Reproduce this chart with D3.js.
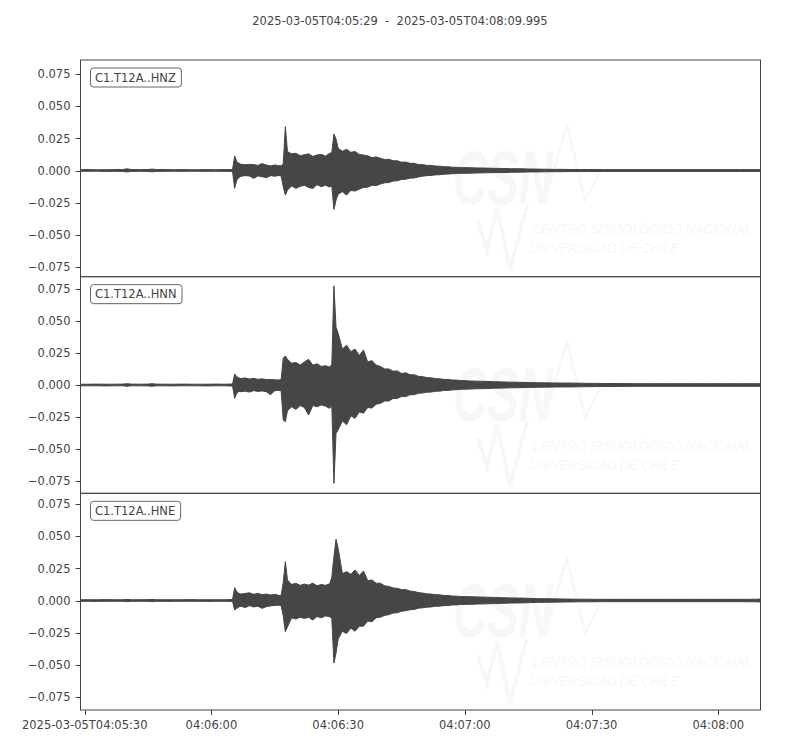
<!DOCTYPE html>
<html><head><meta charset="utf-8">
<script src="https://cdn.jsdelivr.net/npm/d3@7"></script>
<style>body{margin:0;background:#fff} svg{display:block}</style>
</head><body><svg id="c" width="800" height="750"></svg>
<script>
// ---------------- data ----------------
const titleText = "2025-03-05T04:05:29  -  2025-03-05T04:08:09.995";
const channels = ["C1.T12A..HNZ", "C1.T12A..HNN", "C1.T12A..HNE"];
const startISO = "2025-03-05T04:05:29.000Z";
const endISO = "2025-03-05T04:08:09.995Z";
const xTickISO = ["2025-03-05T04:05:30Z","2025-03-05T04:06:00Z","2025-03-05T04:06:30Z","2025-03-05T04:07:00Z","2025-03-05T04:07:30Z","2025-03-05T04:08:00Z"];
const xTickLabels = ["2025-03-05T04:05:30","04:06:00","04:06:30","04:07:00","04:07:30","04:08:00"];
const yTicks = [-0.075,-0.05,-0.025,0,0.025,0.05,0.075];
const yTickLabels = ["\u22120.075","\u22120.050","\u22120.025","0.000","0.025","0.050","0.075"];
// trace means (each axis is centred on its trace mean), half range of y axis
const traceMean = [0.0017, 0.0, -0.0009];
const yHalfRange = 0.0844;

// seconds after start time at which the envelope (max / min) was read
const sec = [0,2,4,6,8,10,11,12,14,16,17,18,20,22,24,26,28,30,32,34,35,36,
  36.5,37,37.5,38,39,40,41,42,43,44,45,46,47,47.5,
  48,48.5,49,50,51,52,53,54,55,56,57,58,59,59.5,
  60,60.5,61,62,63,64,65,66,67,68,69,70,
  71,72,73,74,75,76,77,78,79,80,
  81,82,83,84,85,86,87,88,89,90,
  92,94,96,98,100,102,104,106,108,110,
  112,114,116,118,120,124,128,132,136,140,
  144,148,152,156,160,161];

// envelopes in units of 1e-3
const hnzMax = [0.6,0.7,0.6,0.6,0.7,0.8,1.3,0.8,0.7,0.8,1.1,0.8,0.7,0.6,0.7,0.6,0.6,0.7,0.6,0.7,0.7,0.8,
  11.3,6.9,5.6,4.8,4.5,4.8,4.6,4.0,5.4,4.2,3.6,4.3,3.8,3.6,
  5.5,34.2,14.7,13.0,13.4,11.5,12.2,13.0,11.0,12.1,12.6,11.2,13.4,14.0,
  28.5,24.5,17.3,15.0,16.5,14.2,14.8,12.5,12.0,11.5,10.0,10.6,
  9.5,8.6,8.8,7.6,7.6,6.5,6.6,5.6,5.6,4.6,
  4.6,4.0,4.0,3.5,3.4,3.0,2.9,2.6,2.5,2.3,
  2.2,2.0,1.9,1.7,1.6,1.4,1.4,1.2,1.1,1.0,
  0.9,0.9,0.8,0.8,0.8,0.7,0.7,0.7,0.7,0.7,
  0.7,0.7,0.7,0.7,0.7,0.7];
const hnzMin = [-0.6,-0.6,-0.5,-0.7,-0.6,-0.7,-1.1,-0.7,-0.6,-0.7,-1.0,-0.7,-0.6,-0.6,-0.6,-0.5,-0.6,-0.6,-0.6,-0.6,-0.7,-0.8,
  -13.9,-7.4,-5.5,-4.5,-4.0,-4.3,-6.1,-4.2,-4.8,-5.6,-4.0,-4.4,-3.9,-4.2,
  -12.6,-19.1,-15.2,-12.0,-13.9,-12.4,-11.5,-13.2,-14.0,-11.0,-12.6,-11.5,-12.8,-12.0,
  -30.3,-23.0,-18.5,-16.5,-19.1,-15.5,-16.0,-14.5,-13.2,-13.0,-11.5,-11.8,
  -10.5,-9.6,-9.4,-8.2,-8.0,-7.0,-6.8,-6.0,-5.8,-5.0,
  -4.4,-4.0,-3.8,-3.4,-3.3,-2.9,-2.8,-2.5,-2.4,-2.2,
  -2.1,-1.9,-1.8,-1.6,-1.6,-1.4,-1.3,-1.1,-1.1,-1.0,
  -0.9,-0.9,-0.8,-0.8,-0.8,-0.7,-0.7,-0.7,-0.7,-0.7,
  -0.7,-0.7,-0.7,-0.7,-0.7,-0.7];

const hnnMax = [0.6,0.6,0.7,0.6,0.6,0.7,1.0,0.7,0.6,0.7,1.0,0.7,0.6,0.6,0.7,0.6,0.6,0.6,0.7,0.6,0.7,0.8,
  8.6,6.5,5.5,5.0,5.5,4.6,5.2,4.4,4.8,4.2,4.3,4.0,3.9,4.2,
  20.8,22.6,20.0,17.0,17.5,15.5,18.0,20.0,15.5,16.5,14.5,15.0,14.0,16.0,
  77.2,45.0,40.3,28.0,31.0,26.0,28.0,23.0,27.3,18.0,19.0,15.5,
  14.5,12.5,12.5,10.8,11.0,9.0,9.5,8.0,8.0,6.8,
  6.5,5.8,5.6,5.0,4.8,4.4,4.3,3.9,3.8,3.5,
  3.2,3.0,2.8,2.6,2.4,2.2,2.1,1.9,1.8,1.7,
  1.6,1.5,1.5,1.4,1.3,1.2,1.1,1.0,1.0,1.0,
  1.0,1.0,1.0,1.0,1.0,1.0];
const hnnMin = [-0.6,-0.6,-0.6,-0.7,-0.6,-0.6,-1.0,-0.6,-0.6,-0.7,-1.0,-0.6,-0.6,-0.7,-0.6,-0.6,-0.6,-0.7,-0.6,-0.6,-0.7,-0.8,
  -10.4,-6.5,-5.0,-5.2,-4.8,-5.5,-4.4,-5.0,-4.6,-5.2,-7.5,-4.4,-4.2,-4.5,
  -27.3,-28.6,-20.0,-17.0,-19.0,-16.0,-17.5,-23.4,-16.0,-17.0,-15.5,-16.5,-18.2,-16.0,
  -76.7,-37.7,-35.0,-28.0,-31.0,-24.0,-26.0,-21.0,-22.0,-17.5,-18.0,-15.0,
  -14.3,-12.5,-12.5,-10.5,-10.5,-9.0,-9.0,-7.6,-7.5,-6.5,
  -6.2,-5.6,-5.5,-4.9,-4.8,-4.3,-4.2,-3.8,-3.7,-3.4,
  -3.2,-2.9,-2.8,-2.5,-2.4,-2.2,-2.1,-1.9,-1.8,-1.7,
  -1.6,-1.5,-1.5,-1.4,-1.3,-1.2,-1.1,-1.0,-1.0,-1.0,
  -1.0,-1.0,-1.0,-1.0,-1.0,-1.0];

const hneMax = [0.6,0.6,0.6,0.7,0.6,0.6,0.9,0.6,0.6,0.7,0.9,0.6,0.6,0.6,0.6,0.7,0.6,0.6,0.6,0.6,0.7,0.8,
  10.0,6.9,5.5,5.0,5.5,6.0,4.8,5.6,4.5,5.0,4.3,4.8,4.0,4.0,
  14.0,30.3,16.0,12.5,13.4,11.8,12.8,12.0,13.5,11.5,12.5,11.8,13.0,18.0,
  34.2,47.7,40.7,21.0,22.5,20.5,23.8,19.5,23.0,15.5,16.0,13.5,
  13.5,11.5,11.0,9.8,9.5,8.5,8.5,7.4,7.0,6.2,
  5.8,5.2,5.0,4.6,4.4,4.0,3.9,3.5,3.4,3.1,
  3.0,2.8,2.6,2.4,2.2,2.0,1.9,1.7,1.5,1.4,
  1.3,1.2,1.1,1.0,1.0,0.9,0.9,0.9,0.9,0.9,
  0.9,0.9,0.9,0.9,1.0,1.2];
const hneMin = [-0.6,-0.6,-0.7,-0.6,-0.6,-0.6,-0.9,-0.6,-0.6,-0.6,-0.9,-0.6,-0.7,-0.6,-0.6,-0.6,-0.6,-0.7,-0.6,-0.6,-0.7,-0.8,
  -7.4,-6.1,-5.0,-4.5,-5.5,-4.0,-5.0,-4.4,-6.1,-4.8,-4.2,-3.8,-3.6,-4.0,
  -12.0,-24.3,-20.6,-13.5,-14.5,-13.0,-14.0,-13.0,-15.2,-12.5,-13.5,-12.0,-12.6,-14.0,
  -48.7,-41.0,-30.0,-24.0,-25.7,-21.5,-24.0,-20.0,-20.0,-16.0,-16.5,-13.5,
  -13.0,-11.6,-11.0,-9.8,-9.5,-8.4,-8.0,-7.2,-7.0,-6.0,
  -5.7,-5.2,-5.0,-4.5,-4.4,-4.0,-3.9,-3.5,-3.4,-3.1,
  -3.0,-2.8,-2.6,-2.4,-2.2,-2.0,-1.9,-1.7,-1.5,-1.4,
  -1.3,-1.2,-1.1,-1.0,-1.0,-0.9,-0.9,-0.9,-0.9,-0.9,
  -0.9,-0.9,-0.9,-0.9,-1.0,-1.2];

const envMax = [hnzMax, hnnMax, hneMax];
const envMin = [hnzMin, hnnMin, hneMin];

// ---------------- drawing ----------------
const plotLeft = 80.5, plotRight = 760.5, plotTop = 60, plotBottom = 710;
const nP = 3, panelH = (plotBottom - plotTop) / nP;
const ink = "#444";
const wfColor = "#464646";
const wmColor = "#f7f7f7";
const fontFam = "'DejaVu Sans', sans-serif";
const wmFont = "'Liberation Sans', sans-serif";
const fs = 11.5;

const svg = d3.select("#c");
const t0 = new Date(startISO);
const x = d3.scaleUtc().domain([t0, new Date(endISO)]).range([plotLeft, plotRight]);

svg.append("text").attr("x", 400).attr("y", 25).attr("text-anchor", "middle")
  .attr("font-family", fontFam).attr("font-size", fs).attr("fill", ink)
  .style("white-space", "pre").text(titleText);

const defs = svg.append("defs");

channels.forEach((ch, i) => {
  const top = plotTop + i * panelH, bot = top + panelH;
  const y = d3.scaleLinear().domain([traceMean[i] - yHalfRange, traceMean[i] + yHalfRange]).range([bot, top]);
  defs.append("clipPath").attr("id", "clip" + i).append("rect")
    .attr("x", plotLeft).attr("y", top).attr("width", plotRight - plotLeft).attr("height", panelH);

  // watermark (CSN logo), very faint
  const wm = svg.append("g").attr("transform", `translate(0,${top})`);
  wm.append("text").attr("x", 453).attr("y", 144).attr("font-family", wmFont)
    .attr("font-size", 76).attr("font-style", "italic").attr("font-weight", "bold")
    .attr("textLength", 100).attr("lengthAdjust", "spacingAndGlyphs").attr("fill", wmColor).text("CSN");
  wm.append("polyline").attr("points", "548,130 567,65 585,140 600,112")
    .attr("fill", "none").attr("stroke", wmColor).attr("stroke-width", 2.5);
  wm.append("polyline").attr("points", "478,162 487,190 497,148 510,210 527,145")
    .attr("fill", "none").attr("stroke", wmColor).attr("stroke-width", 4);
  wm.append("text").attr("x", 532).attr("y", 174).attr("font-family", wmFont)
    .attr("font-size", 14).attr("font-style", "italic").attr("textLength", 220)
    .attr("lengthAdjust", "spacingAndGlyphs").attr("fill", wmColor).text("CENTRO SISMOLÓGICO NACIONAL");
  wm.append("text").attr("x", 529).attr("y", 193).attr("font-family", wmFont)
    .attr("font-size", 14).attr("font-style", "italic").attr("textLength", 150)
    .attr("lengthAdjust", "spacingAndGlyphs").attr("fill", wmColor).text("UNIVERSIDAD DE CHILE");

  // waveform envelope
  const g = svg.append("g").attr("clip-path", `url(#clip${i})`);
  const pts = sec.map((s, k) => ({ t: new Date(t0.getTime() + s * 1000), hi: envMax[i][k] / 1000, lo: envMin[i][k] / 1000 }));
  const area = d3.area().x(d => x(d.t)).y0(d => y(d.lo)).y1(d => y(d.hi)).curve(d3.curveLinear);
  g.append("path").datum(pts).attr("d", area).attr("fill", wfColor)
    .attr("stroke", wfColor).attr("stroke-width", 1).attr("stroke-linejoin", "miter");

  // frame
  svg.append("rect").attr("x", plotLeft).attr("y", top).attr("width", plotRight - plotLeft).attr("height", panelH)
    .attr("fill", "none").attr("stroke", ink).attr("stroke-width", 1);

  // y axis
  const ya = svg.append("g").attr("transform", `translate(${plotLeft},0)`);
  yTicks.forEach((v, k) => {
    const yy = Math.round(y(v)) + 0.5;
    ya.append("line").attr("x1", -5).attr("x2", 0).attr("y1", yy).attr("y2", yy).attr("stroke", ink).attr("stroke-width", 1);
    ya.append("text").attr("x", -10).attr("y", y(v)).attr("dy", "0.36em").attr("text-anchor", "end")
      .attr("font-family", fontFam).attr("font-size", fs).attr("fill", ink).text(yTickLabels[k]);
  });

  // channel label box
  const lbl = svg.append("g");
  const tx = lbl.append("text").attr("x", 95).attr("y", top + 21.5).attr("font-family", fontFam)
    .attr("font-size", fs).attr("fill", ink).text(ch);
  const bb = tx.node().getBBox();
  lbl.insert("rect", "text").attr("x", 90.5).attr("y", top + 8).attr("width", bb.width + 10).attr("height", 19)
    .attr("rx", 3).attr("ry", 3).attr("fill", "#fff").attr("stroke", "#666").attr("stroke-width", 1);
});

// x axis
const xa = svg.append("g");
xTickISO.forEach((iso, k) => {
  const xx = Math.round(x(new Date(iso))) + 0.5;
  xa.append("line").attr("x1", xx).attr("x2", xx).attr("y1", plotBottom).attr("y2", plotBottom + 5).attr("stroke", ink);
  xa.append("text").attr("x", x(new Date(iso))).attr("y", plotBottom + 19).attr("text-anchor", "middle")
    .attr("font-family", fontFam).attr("font-size", fs).attr("fill", ink).text(xTickLabels[k]);
});
</script></body></html>
